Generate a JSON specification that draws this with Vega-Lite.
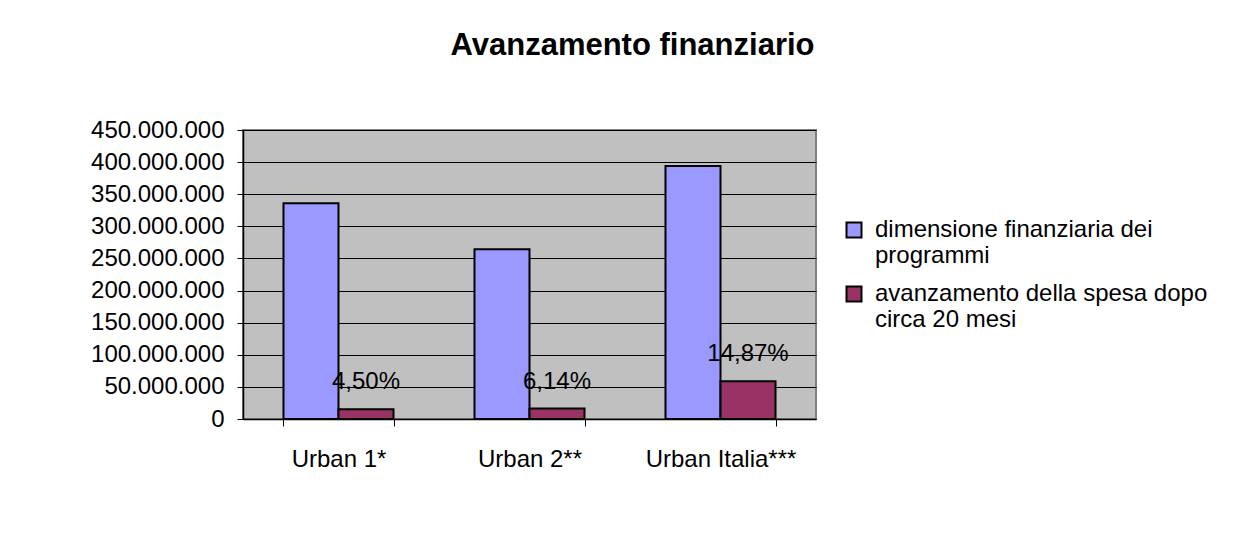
{
  "$schema": "https://vega.github.io/schema/vega-lite/v6.json",
  "width": 573,
  "height": 289,
  "padding": {"left": 90, "top": 30, "right": 5, "bottom": 5},
  "background": "white",
  "config": {
    "locale": {"number": {"decimal": ",", "thousands": ".", "grouping": [3], "currency": ["€", ""]}},
    "font": "Liberation Sans",
    "view": {"fill": "#C0C0C0", "stroke": "#808080", "strokeWidth": 2},
    "legend": {"layout": {"right": {"anchor": "middle"}}}
  },
  "title": {
    "text": "Avanzamento finanziario",
    "fontSize": 31,
    "fontWeight": "bold",
    "font": "Liberation Sans",
    "color": "black",
    "anchor": "middle",
    "frame": "group",
    "dx": 103,
    "baseline": "alphabetic",
    "offset": 32
  },
  "data": {
    "values": [
      {"programma": "Urban 1*", "serie": "dimensione finanziaria dei programmi", "valore": 336000000, "percentuale": ""},
      {"programma": "Urban 1*", "serie": "avanzamento della spesa dopo circa 20 mesi", "valore": 15120000, "percentuale": "4,50%"},
      {"programma": "Urban 2**", "serie": "dimensione finanziaria dei programmi", "valore": 264500000, "percentuale": ""},
      {"programma": "Urban 2**", "serie": "avanzamento della spesa dopo circa 20 mesi", "valore": 16240000, "percentuale": "6,14%"},
      {"programma": "Urban Italia***", "serie": "dimensione finanziaria dei programmi", "valore": 394000000, "percentuale": ""},
      {"programma": "Urban Italia***", "serie": "avanzamento della spesa dopo circa 20 mesi", "valore": 58590000, "percentuale": "14,87%"}
    ]
  },
  "encoding": {
    "x": {
      "field": "programma",
      "type": "nominal",
      "sort": ["Urban 1*", "Urban 2**", "Urban Italia***"],
      "scale": {"paddingInner": 0.424, "paddingOuter": 0.212},
      "axis": {
        "title": null,
        "labelAngle": 0,
        "labelFontSize": 24,
        "labelColor": "black",
        "labelPadding": 21,
        "domainColor": "black",
        "domainWidth": 1.5,
        "tickColor": "black",
        "tickSize": 7,
        "tickBand": "extent",
        "grid": false
      }
    },
    "xOffset": {
      "field": "serie",
      "type": "nominal",
      "scale": {"domain": ["dimensione finanziaria dei programmi", "avanzamento della spesa dopo circa 20 mesi"], "paddingInner": 0, "paddingOuter": 0}
    },
    "y": {
      "field": "valore",
      "type": "quantitative",
      "scale": {"domain": [0, 450000000], "nice": false},
      "axis": {
        "title": null,
        "values": [0, 50000000, 100000000, 150000000, 200000000, 250000000, 300000000, 350000000, 400000000, 450000000],
        "format": ",d",
        "labelFontSize": 24,
        "labelColor": "black",
        "labelPadding": 13,
        "tickSize": 6,
        "tickColor": "black",
        "domainColor": "black",
        "domainWidth": 1.5,
        "gridColor": "black",
        "gridWidth": 1
      }
    }
  },
  "layer": [
    {
      "mark": {"type": "bar", "stroke": "black", "strokeWidth": 2},
      "encoding": {
        "color": {
          "field": "serie",
          "type": "nominal",
          "scale": {"domain": ["dimensione finanziaria dei programmi", "avanzamento della spesa dopo circa 20 mesi"], "range": ["#9999FF", "#993366"]},
          "legend": {
            "title": null,
            "orient": "right",
            "offset": 26,
            "symbolType": "square",
            "symbolSize": 225,
            "symbolStrokeColor": "black",
            "symbolStrokeWidth": 2,
            "symbolOpacity": 1,
            "labelFontSize": 24,
            "labelColor": "black",
            "labelLimit": 500,
            "labelOffset": 9,
            "rowPadding": 14,
            "labelExpr": "datum.label == 'dimensione finanziaria dei programmi' ? ['dimensione finanziaria dei', 'programmi'] : ['avanzamento della spesa dopo', 'circa 20 mesi']"
          }
        }
      }
    },
    {
      "transform": [{"filter": "datum.percentuale != ''"}],
      "mark": {"type": "text", "fontSize": 24, "color": "black", "baseline": "alphabetic", "align": "center", "dy": -20},
      "encoding": {
        "text": {"field": "percentuale", "type": "nominal"}
      }
    }
  ]
}
